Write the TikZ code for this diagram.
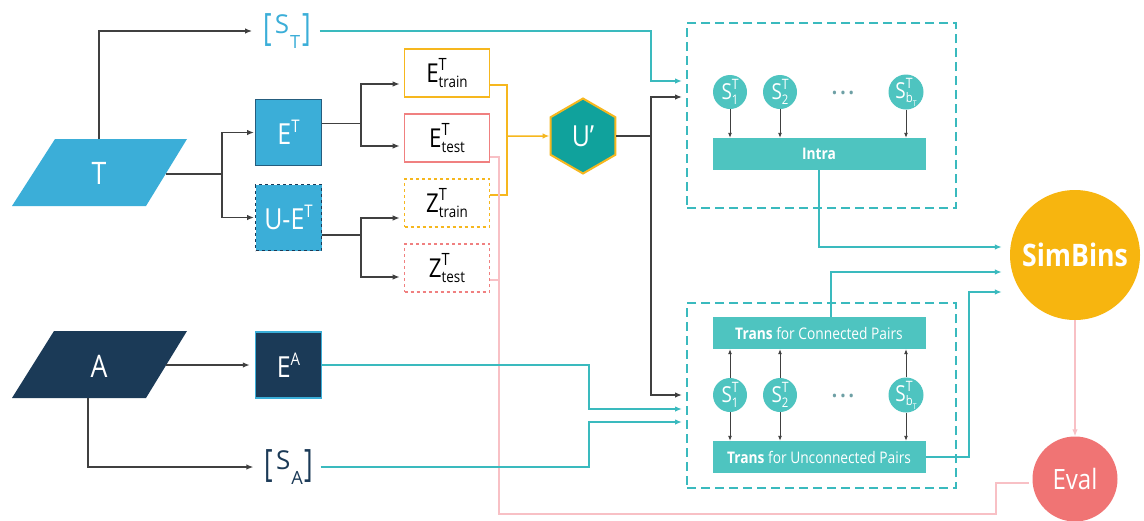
\documentclass[tikz,border=0pt]{standalone}
\usepackage{fontspec}
\usepackage{graphicx}
\setmainfont{Open Sans}[FakeStretch=0.86]
\newfontfamily\plainfont{Open Sans}
\usetikzlibrary{arrows.meta,shapes.geometric,calc}
\definecolor{tblue}{RGB}{59,174,216}
\definecolor{navy}{RGB}{27,58,87}
\definecolor{tealL}{RGB}{58,186,190}
\definecolor{tealF}{RGB}{78,196,192}
\definecolor{tealD}{RGB}{16,162,156}
\definecolor{orng}{RGB}{246,183,30}
\definecolor{sbfill}{RGB}{247,181,15}
\definecolor{pinkB}{RGB}{240,128,128}
\definecolor{pinkL}{RGB}{248,192,197}
\definecolor{evalc}{RGB}{240,116,116}
\definecolor{gry}{RGB}{64,64,64}
\definecolor{dotc}{RGB}{110,160,165}
\newcommand{\Sp}[2]{#1\raisebox{0.42em}{\scalebox{0.6}{#2}}}
\newcommand{\SpSb}[3]{#1\rlap{\raisebox{0.46em}{\scalebox{0.65}{#2}}}\raisebox{-0.2em}{\scalebox{0.6}{#3}}}
\newcommand{\Brk}[2]{\raisebox{-7pt}{\scalebox{1}[1.45]{[}}\hspace{3pt}#1\hspace{1pt}\raisebox{-0.55em}{\scalebox{0.7}{#2}}\hspace{2pt}\raisebox{-7pt}{\scalebox{1}[1.45]{]}}}
\begin{document}
\begin{tikzpicture}[x=1pt,y=-1pt,
  tip/.style={-{Latex[length=7pt,width=5.5pt]}},
  garrow/.style={draw=gry,line width=1.3pt,tip},
  tarrow/.style={draw=tealL,line width=1.5pt,tip},
  tline/.style={draw=tealL,line width=1.5pt},
  oline/.style={draw=orng,line width=1.5pt},
  oarrow/.style={oline,tip},
  pline/.style={draw=pinkL,line width=1.2pt},
  parrow/.style={pline,tip},
  sarrow/.style={draw=gry,line width=0.9pt,-{Latex[length=5pt,width=4pt]}},
  sqbox/.style={minimum width=66pt,minimum height=66pt,inner sep=0pt,text=white,font=\fontsize{29}{32}\selectfont},
  wbox/.style={fill=white,minimum width=85pt,minimum height=48pt,inner sep=0pt,line width=1.6pt,font=\fontsize{26}{28}\selectfont},
  scirc/.style={circle,fill=tealF,minimum size=34pt,inner sep=0pt,text=white,font=\fontsize{22}{24}\selectfont},
  bar/.style={fill=tealF,minimum width=213pt,minimum height=32pt,inner sep=0pt,text=white,font=\fontsize{16}{18}\selectfont},
  dbox/.style={draw=tealL,line width=1.8pt,dash pattern=on 9pt off 5pt,minimum width=269pt,minimum height=185pt,inner sep=0pt},
  dotsty/.style={text=dotc,font=\fontsize{22}{24}\selectfont\bfseries},
  brk/.style={inner sep=0pt,font=\plainfont\fontsize{26}{30}\selectfont},
  para/.style={text=white,font=\fontsize{31}{34}\selectfont}
]
\useasboundingbox (0,0) rectangle (1144,520);
\fill[white] (0,0) rectangle (1144,520);

% parallelograms
\fill[tblue] (55,139) -- (187,139) -- (146,206) -- (12,206) -- cycle;
\node[para] (T) at (99,173) {T};
\fill[navy] (54,331) -- (187,331) -- (146,398) -- (12,398) -- cycle;
\node[para] (A) at (99,366) {A};
\coordinate (Tup) at (99,139);
\coordinate (Trt) at (166,174);
\coordinate (Art) at (166,365);
\coordinate (Adn) at (88,398);

% blue boxes
\node[sqbox,fill=tblue,draw=navy!70!tblue,line width=1pt] (ET) at (288.5,132.5) {\Sp{E}{T}};
\node[sqbox,fill=tblue,draw=navy,line width=1pt,dashed] (UET) at (288.5,217.5) {U-\Sp{E}{T}};
\node[sqbox,fill=navy,draw=tblue,line width=1.5pt] (EA) at (288.5,365) {\Sp{E}{A}};

% bracket sets
\node[brk,text=tblue] (ST) at (287,31) {\Brk{S}{T}};
\node[brk,text=navy] (SA) at (289,467) {\Brk{S}{A}};

% train/test boxes
\node[wbox,draw=orng] (Etrain) at (447,73) {\SpSb{E}{T}{train}};
\node[wbox,draw=pinkB] (Etest) at (447,138) {\SpSb{E}{T}{test}};
\node[wbox,draw=orng,dashed] (Ztrain) at (447,203) {\SpSb{Z}{T}{train}};
\node[wbox,draw=pinkB,dashed] (Ztest) at (447,268) {\SpSb{Z}{T}{test}};

% hexagon
\node[regular polygon,regular polygon sides=6,shape border rotate=30,minimum size=75pt,inner sep=0pt,
  fill=tealD,draw=orng,line width=2pt,text=white,font=\fontsize{29}{32}\selectfont] (U) at (583,136) {U’};

% dashed boxes
\node[dbox] (TopBox) at (821.5,115.5) {};
\node[dbox] (BotBox) at (821.5,395.5) {};

% top box content
\node[scirc] (s1) at (730,92) {\SpSb{S}{T}{1}};
\node[scirc] (s2) at (780,92) {\SpSb{S}{T}{2}};
\node[scirc] (sb) at (906,92) {\SpSb{S}{T}{b\raisebox{-0.25em}{\scalebox{0.6}{T}}}};
\node[dotsty] (d1) at (843,93) {.\hspace{3pt}.\hspace{3pt}.};
\node[bar] (Intra) at (819,154) {\textbf{Intra}};
\foreach \c in {s1,s2,sb} \draw[sarrow] (\c.south) -- (\c.south |- Intra.north);

% bottom box content
\node[bar] (Conn) at (819,333) {\textbf{Trans} for Connected Pairs};
\node[scirc] (t1) at (730,395) {\SpSb{S}{T}{1}};
\node[scirc] (t2) at (780,395) {\SpSb{S}{T}{2}};
\node[scirc] (tb) at (906,395) {\SpSb{S}{T}{b\raisebox{-0.25em}{\scalebox{0.6}{T}}}};
\node[dotsty] (d2) at (843,396) {.\hspace{3pt}.\hspace{3pt}.};
\node[bar] (Unconn) at (819,457) {\textbf{Trans} for Unconnected Pairs};
\foreach \c in {t1,t2,tb} {
  \draw[sarrow] (\c.north) -- (\c.north |- Conn.south);
  \draw[sarrow] (\c.south) -- (\c.south |- Unconn.north);
}

% result circles
\node[circle,fill=sbfill,minimum size=130pt,inner sep=0pt,text=white,font=\fontsize{31}{34}\selectfont\bfseries] (SimBins) at (1075,255) {SimBins};
\node[circle,fill=evalc,minimum size=85pt,inner sep=0pt,text=white,font=\fontsize{28}{30}\selectfont] (Eval) at (1075,479) {Eval};

% entry coordinates
\coordinate (tin1) at (682,81);
\coordinate (tin2) at (682,97);
\coordinate (bin1) at (682,395);
\coordinate (bin2) at (682,409);
\coordinate (bin3) at (682,422);
\coordinate (oj) at (507,136);

% gray connectors
\draw[garrow] (Tup) |- ([xshift=-11pt]ST.west);
\draw[garrow] (Trt) -- (222,174) |- ([xshift=-1pt]ET.west);
\draw[garrow] (222,174) |- ([xshift=-1pt]UET.west);
\draw[garrow] ([yshift=9pt]ET.east) -- (361,123.5) |- ([shift={(-4pt,-11pt)}]Etrain.west);
\draw[garrow] (361,123.5) |- ([shift={(-4pt,-8pt)}]Etest.west);
\draw[garrow] ([yshift=-17.5pt]UET.east) -- (361,235) |- ([shift={(-4pt,-15pt)}]Ztrain.west);
\draw[garrow] (361,235) |- ([shift={(-4pt,-9pt)}]Ztest.west);
\draw[garrow] (Art) -- ([xshift=-5pt]EA.west);
\draw[garrow] (Adn) |- ([xshift=-11pt]SA.west);
\draw[garrow] (U.0) -| (651,97) -- (tin2);
\draw[garrow] (U.0) -| (651,395) -- (bin1);

% orange
\draw[oline] ([yshift=-12pt]Etrain.east) -- (507,85) |- ([yshift=8pt]Ztrain.east);
\draw[oarrow] (oj) -- (U.180);

% pink
\draw[pline] ([yshift=-19pt]Etest.east) -- (499,157) -- (499,514) -- (996,514) |- ([shift={(-3,4)}]Eval.west);
\draw[pline] ([yshift=-12pt]Ztest.east) -- (499,280);
\draw[parrow] (SimBins.south) -- (Eval.north);

% teal
\draw[tarrow] ([xshift=9pt]ST.east) -| (651,81) -- (tin1);
\draw[tarrow] (EA.east) -- (589,365) |- (bin2);
\draw[tarrow] ([xshift=7pt]SA.east) -- (589,467) |- (bin3);
\draw[tarrow] (Intra.south) |- ([shift={(-8,-8)}]SimBins.west);
\draw[tarrow] ([xshift=12pt]Conn.north) |- ([shift={(-8,17)}]SimBins.west);
\draw[tarrow] (Unconn.east) -| ($(SimBins.west)+(-41,37)$) -- ([shift={(-8,37)}]SimBins.west);
\end{tikzpicture}
\end{document}
